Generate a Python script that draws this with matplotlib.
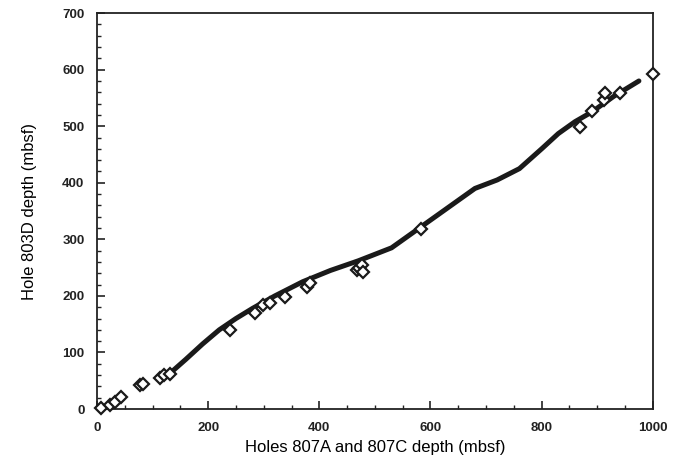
import matplotlib
matplotlib.use("Agg")
import matplotlib.pyplot as plt
from matplotlib.ticker import MultipleLocator

# Data points (open diamonds)
pts_x = [7, 23, 32, 43, 77, 82, 113, 120, 131, 240, 284, 299, 311, 338, 378, 383,
         468, 472, 477, 478, 583, 869, 890, 912, 914, 941, 1000]
pts_y = [2, 7, 12, 21, 42, 45, 55, 60, 62, 140, 170, 184, 187, 198, 216, 222,
         246, 250, 254, 242, 318, 498, 527, 546, 558, 558, 592]

# Correlation line
line_x = [130, 160, 190, 220, 250, 280, 320, 370, 420, 470, 530, 580, 630, 680,
          720, 760, 800, 830, 860, 890, 930, 975]
line_y = [62, 88, 115, 140, 160, 178, 200, 225, 245, 262, 285, 320, 355, 390,
          405, 425, 460, 487, 508, 525, 553, 580]

plt.rcParams['font.family'] = ['Liberation Sans', 'DejaVu Sans']

fig = plt.figure(figsize=(6.8, 4.68), dpi=100)
ax = fig.add_axes([0.1426, 0.126, 0.8174, 0.846])

ax.plot(line_x, line_y, color='#1a1a1a', lw=3.6, solid_capstyle='round',
        solid_joinstyle='round', zorder=2)
ax.plot(pts_x, pts_y, linestyle='none', marker='D', markersize=5.8,
        markerfacecolor='white', markeredgecolor='#1a1a1a', markeredgewidth=1.6,
        zorder=3, clip_on=False)

ax.set_xlim(0, 1000)
ax.set_ylim(0, 700)
ax.xaxis.set_major_locator(MultipleLocator(200))
ax.xaxis.set_minor_locator(MultipleLocator(50))
ax.yaxis.set_major_locator(MultipleLocator(100))
ax.yaxis.set_minor_locator(MultipleLocator(20))
ax.tick_params(which='both', direction='in', top=False, right=False, colors='#222222')
ax.tick_params(which='major', length=6, width=1.2, pad=9, labelsize=9.5)
ax.tick_params(which='minor', length=3, width=1.0)
for lab in ax.get_xticklabels() + ax.get_yticklabels():
    lab.set_fontweight('bold')
for sp in ax.spines.values():
    sp.set_linewidth(1.3)
    sp.set_color('#222222')

ax.set_xlabel('Holes 807A and 807C depth (mbsf)', fontsize=12, labelpad=5)
ax.set_ylabel('Hole 803D depth (mbsf)', fontsize=12, labelpad=18)

fig.savefig('out.png', dpi=100)
